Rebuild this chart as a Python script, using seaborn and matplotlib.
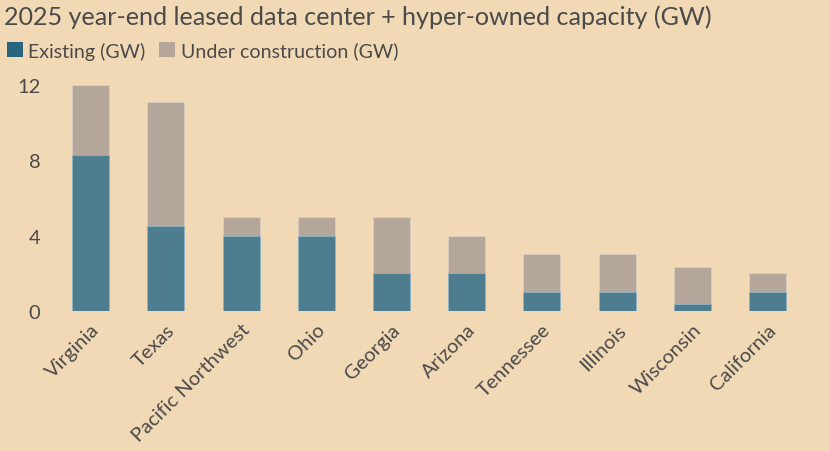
import matplotlib
matplotlib.use("Agg")
import matplotlib.pyplot as plt
import seaborn as sns
import pandas as pd
from matplotlib.patches import Patch

# Chart data
regions = ["Virginia", "Texas", "Pacific Northwest", "Ohio", "Georgia",
           "Arizona", "Tennessee", "Illinois", "Wisconsin", "California"]
existing = [8.3, 4.5, 4.0, 4.0, 2.0, 2.0, 1.0, 1.0, 0.35, 1.0]
under_construction = [3.7, 6.6, 1.0, 1.0, 3.0, 2.0, 2.0, 2.0, 2.0, 1.0]
y_ticks = [0, 4, 8, 12]

BG = "#F2D9B6"
TEAL = "#4D7D8E"
TEAL_LEGEND = "#2A6580"
GREY = "#B5A69A"
TEXT = "#4A4A4A"

df = pd.DataFrame({
    "region": regions,
    "existing": existing,
    "total": [e + u for e, u in zip(existing, under_construction)],
})

sns.set_theme(style="white")
plt.rcParams["font.family"] = ["Lato", "DejaVu Sans"]

fig = plt.figure(figsize=(8.3, 4.52), dpi=100, facecolor=BG)
ax = fig.add_axes([0.064, 0.31, 0.906, 0.512])
ax.set_facecolor(BG)

sns.barplot(data=df, x="region", y="total", color=GREY, width=0.49,
            saturation=1, edgecolor="#D9CFC6", linewidth=0.6, ax=ax)
sns.barplot(data=df, x="region", y="existing", color=TEAL, width=0.49,
            saturation=1, edgecolor="#8FB3C4", linewidth=0.6, ax=ax)

ax.set_xlim(-0.5, 9.5)
ax.set_ylim(0, 12.3)
ax.set_yticks(y_ticks)
ax.set_xlabel("")
ax.set_ylabel("")
sns.despine(ax=ax, left=True, bottom=True)
ax.tick_params(axis="y", length=0, colors=TEXT, labelsize=14.5, pad=9)
ax.tick_params(axis="x", length=0, colors=TEXT, labelsize=14.5, pad=7)
plt.setp(ax.get_xticklabels(), rotation=45, ha="right", rotation_mode="anchor")

fig.text(0.005, 0.962, "2025 year-end leased data center + hyper-owned capacity (GW)",
         fontsize=18.1, color=TEXT, va="center", ha="left")

handles = [Patch(facecolor=TEAL_LEGEND, edgecolor="none", label="Existing (GW)"),
           Patch(facecolor=GREY, edgecolor="none", label="Under construction (GW)")]
fig.legend(handles=handles, loc="center left", bbox_to_anchor=(-0.013, 0.886),
           ncol=2, frameon=False, fontsize=14.1, handlelength=0.8, handleheight=0.8,
           handletextpad=0.3, columnspacing=0.7, labelcolor=TEXT)

fig.savefig("out.png", dpi=100, facecolor=BG)
